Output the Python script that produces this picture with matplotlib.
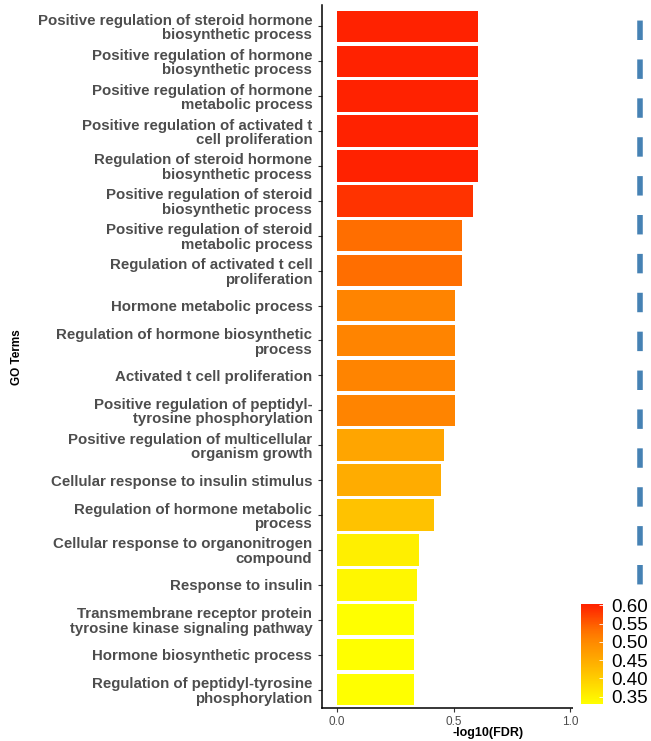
import matplotlib
matplotlib.use("Agg")
import matplotlib.pyplot as plt
import numpy as np
from matplotlib.colors import LinearSegmentedColormap, Normalize
from matplotlib.patches import Rectangle

plt.rcParams['font.family'] = ['Liberation Sans', 'DejaVu Sans']

# GO terms, top to bottom
terms = [
    "Positive regulation of steroid hormone\nbiosynthetic process",
    "Positive regulation of hormone\nbiosynthetic process",
    "Positive regulation of hormone\nmetabolic process",
    "Positive regulation of activated t\ncell proliferation",
    "Regulation of steroid hormone\nbiosynthetic process",
    "Positive regulation of steroid\nbiosynthetic process",
    "Positive regulation of steroid\nmetabolic process",
    "Regulation of activated t cell\nproliferation",
    "Hormone metabolic process",
    "Regulation of hormone biosynthetic\nprocess",
    "Activated t cell proliferation",
    "Positive regulation of peptidyl-\ntyrosine phosphorylation",
    "Positive regulation of multicellular\norganism growth",
    "Cellular response to insulin stimulus",
    "Regulation of hormone metabolic\nprocess",
    "Cellular response to organonitrogen\ncompound",
    "Response to insulin",
    "Transmembrane receptor protein\ntyrosine kinase signaling pathway",
    "Hormone biosynthetic process",
    "Regulation of peptidyl-tyrosine\nphosphorylation",
]
neglog_fdr = [0.604, 0.604, 0.604, 0.604, 0.604, 0.585, 0.534, 0.534, 0.508, 0.508,
              0.508, 0.508, 0.459, 0.448, 0.416, 0.353, 0.342, 0.330, 0.330, 0.330]
cutoff = -np.log10(0.05)
cbar_ticks = [0.35, 0.40, 0.45, 0.50, 0.55, 0.60]

# yellow -> red gradient
cmap = LinearSegmentedColormap.from_list("yr", [
    (0.0, "#FFFF00"), (0.314, "#FFC200"), (0.65, "#FF8400"),
    (0.745, "#FF6E00"), (0.93, "#FF3400"), (1.0, "#FF2200")])
norm = Normalize(vmin=min(neglog_fdr), vmax=max(neglog_fdr))

fig = plt.figure(figsize=(6.51, 7.41), dpi=100)
ax = fig.add_axes([0.4946, 0.0445, 0.5121, 0.9487])

ypos = np.arange(len(terms))[::-1]
ax.barh(ypos, neglog_fdr, height=0.9, color=cmap(norm(neglog_fdr)),
        edgecolor="none")
# significance cutoff (FDR = 0.05)
ax.plot([cutoff, cutoff], [19.61, -0.53], color="#4682B4", lw=4,
        linestyle=(4.2, (3.5, 3.5)), dash_capstyle="butt")

ax.set_xlim(-0.065, 1.366)
ax.set_ylim(-0.53, 19.61)
ax.set_yticks(ypos)
ax.set_yticklabels(terms, fontsize=10.8, fontweight="bold", color="#4D4D4D",
                   linespacing=1.06)
ax.set_xticks([0.0, 0.5, 1.0])
ax.set_xticklabels(["0.0", "0.5", "1.0"], fontsize=8.5, color="#4D4D4D")
ax.tick_params(axis="both", length=3, width=0.8, color="#333333", pad=3)
ax.tick_params(axis="y", pad=4)
for s in ["top", "right"]:
    ax.spines[s].set_visible(False)
for s in ["left", "bottom"]:
    ax.spines[s].set_linewidth(1.1)
fig.text(488 / 651, 5 / 741, "-log10(FDR)", fontsize=9, fontweight="bold",
         ha="center", va="baseline")
fig.text(17 / 651, 0.518, "GO Terms", rotation=90, fontsize=8.5,
         fontweight="bold", ha="center", va="center")

# legend background covering the axis line
fig.patches.append(Rectangle((573 / 651, (741 - 711) / 741), 1 - 573 / 651,
                             (711 - 595) / 741, transform=fig.transFigure,
                             facecolor="white", edgecolor="none", zorder=5))
cax = fig.add_axes([581 / 651, 37 / 741, 22 / 651, 100 / 741], zorder=6)
sm = matplotlib.cm.ScalarMappable(norm=norm, cmap=cmap)
cb = fig.colorbar(sm, cax=cax, ticks=cbar_ticks)
cb.outline.set_visible(False)
cb.ax.set_yticklabels(["%.2f" % t for t in cbar_ticks], fontsize=13.5)
cb.ax.tick_params(length=3, width=0.6, color="white", direction="in", pad=6)

fig.savefig("out.png", dpi=100)
